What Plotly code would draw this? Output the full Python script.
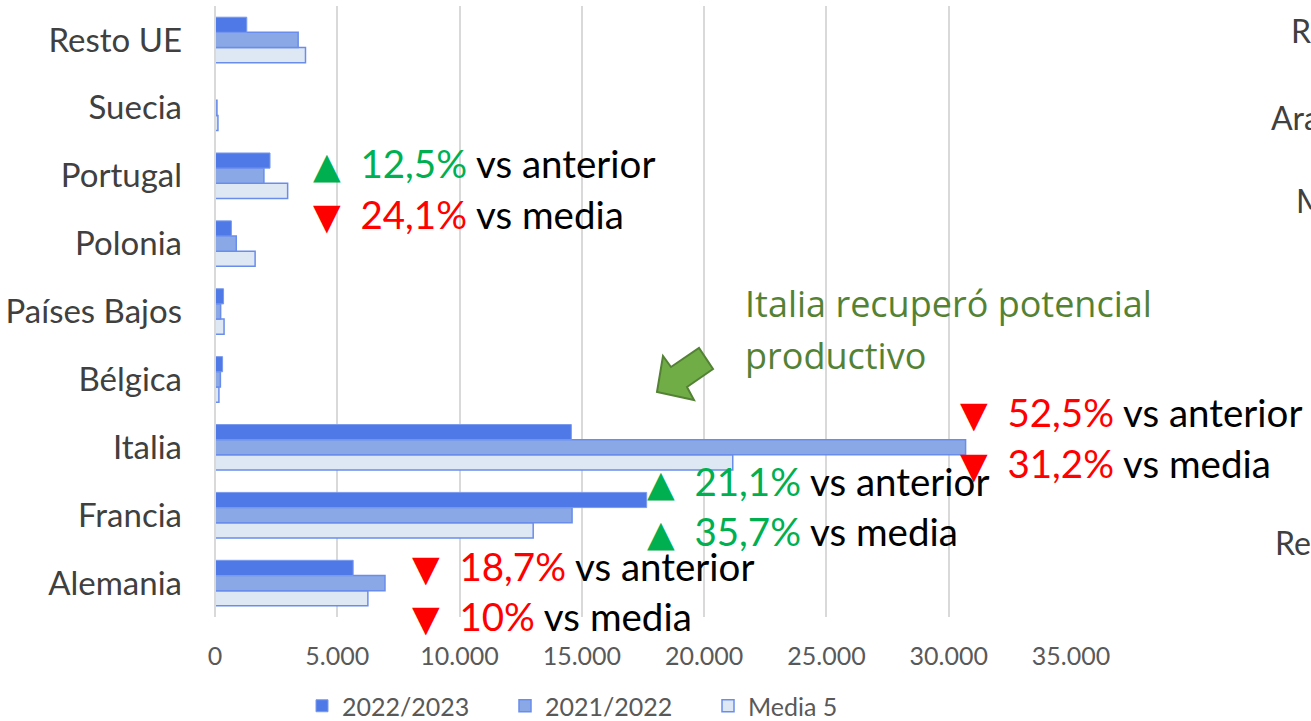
import plotly.graph_objects as go

# data (tonnes), categories listed bottom to top
paises = ['Alemania', 'Francia', 'Italia', 'Bélgica', 'Países Bajos',
          'Polonia', 'Portugal', 'Suecia', 'Resto UE']
v_2223 = [5650, 17650, 14570, 310, 350, 670, 2250, 20, 1300]
v_2122 = [6950, 14600, 30690, 220, 230, 870, 2000, 80, 3400]
v_media = [6250, 13010, 21170, 160, 370, 1640, 2970, 120, 3700]

x_ticks = [0, 5000, 10000, 15000, 20000, 25000, 30000, 35000]
x_ticktext = ['0', '5.000', '10.000', '15.000', '20.000', '25.000', '30.000', '35.000']

W, H = 1311, 721
L, R, T, B = 215, 1071, 6, 617  # plot area in px

def px(x):
    return (x - L) / (R - L)

def py(y):
    return (B - y) / (B - T)

fig = go.Figure()
fig.add_trace(go.Bar(y=paises, x=v_media, name='Media 5', orientation='h',
                     marker=dict(color='#DEE8F5', line=dict(color='#6A8DEB', width=1.5))))
fig.add_trace(go.Bar(y=paises, x=v_2122, name='2021/2022', orientation='h',
                     marker=dict(color='#8AA8E6', line=dict(color='#6A8DEB', width=1.5))))
fig.add_trace(go.Bar(y=paises, x=v_2223, name='2022/2023', orientation='h',
                     marker=dict(color='#5079E8', line=dict(color='#7A9AEE', width=1))))

GREEN = '#00B050'
RED = '#FF0000'

def linea(x, y, up, pct, txt):
    col = GREEN if up else RED
    tri = '▲' if up else '▼'
    return dict(x=px(x), y=py(y), xref='paper', yref='paper', xanchor='left', yanchor='middle',
                showarrow=False,
                text=(f'<span style="color:{col};font-family:DejaVu Sans;font-size:36px">{tri}</span>&nbsp; '
                      f'<span style="color:{col}">{pct}</span> {txt}'),
                font=dict(family='Lato', size=38.5, color='#000000'))

anots = [
    linea(311, 163, True, '12,5%', 'vs anterior'),
    linea(311, 214, False, '24,1%', 'vs media'),
    linea(958, 412, False, '52,5%', 'vs anterior'),
    linea(958, 463, False, '31,2%', 'vs media'),
    linea(645, 481, True, '21,1%', 'vs anterior'),
    linea(645, 531, True, '35,7%', 'vs media'),
    linea(410, 566, False, '18,7%', 'vs anterior'),
    linea(410, 616, False, '10%', 'vs media'),
]
for t, yy in [('Italia recuperó potencial', 303), ('productivo', 355)]:
    anots.append(dict(x=px(743), y=py(yy), xref='paper', yref='paper', xanchor='left', yanchor='middle',
                      showarrow=False, text=t,
                      font=dict(family='Open Sans', size=36, color='#548235')))
# labels of the neighbouring chart, cut at the right edge
for t, xx, yy in [('R', 1289, 30), ('Ara', 1269, 117), ('M', 1294, 200), ('Re', 1273, 542)]:
    anots.append(dict(x=px(xx), y=py(yy), xref='paper', yref='paper', xanchor='left', yanchor='middle',
                      showarrow=False, text=t, font=dict(family='Lato', size=32, color='#404040')))

arrow_pts = [(657, 392), (663, 356), (671, 367), (699, 348), (713, 369), (687, 387), (694, 400)]
path = 'M ' + ' L '.join(f'{px(a):.5f},{py(b):.5f}' for a, b in arrow_pts) + ' Z'

fig.update_layout(
    width=W, height=H,
    margin=dict(l=L, r=W - R, t=T, b=H - B, autoexpand=False),
    paper_bgcolor='white', plot_bgcolor='white',
    barmode='group', bargap=0.33, bargroupgap=0,
    font=dict(family='Lato'),
    xaxis=dict(range=[0, 35000], tickvals=x_ticks, ticktext=x_ticktext,
               showgrid=True, gridcolor='#D9D9D9', gridwidth=2,
               zeroline=False, showline=False, ticks='', automargin=False,
               tickfont=dict(family='Lato', size=25, color='#595959'),
               ticklabelstandoff=22),
    yaxis=dict(categoryorder='array', categoryarray=paises,
               showgrid=False, zeroline=False, ticks='', showline=False, automargin=False,
               tickfont=dict(family='Lato', size=33, color='#404040'),
               ticklabelstandoff=32),
    legend=dict(orientation='h', x=px(302), y=py(706), xref='paper', yref='paper',
                xanchor='left', yanchor='middle', traceorder='reversed',
                entrywidth=158, entrywidthmode='pixels',
                font=dict(family='Lato', size=25, color='#595959')),
    showlegend=True,
    annotations=anots,
    shapes=[
        dict(type='line', xref='paper', yref='paper', x0=0, x1=0, y0=0, y1=1,
             line=dict(color='#D9D9D9', width=2)),
        dict(type='path', xref='paper', yref='paper', path=path,
             fillcolor='#70AD47', line=dict(color='#548235', width=2)),
    ],
)

fig.write_html('out.html', config={'displayModeBar': False},
               post_script="document.body.style.margin='0px';")
